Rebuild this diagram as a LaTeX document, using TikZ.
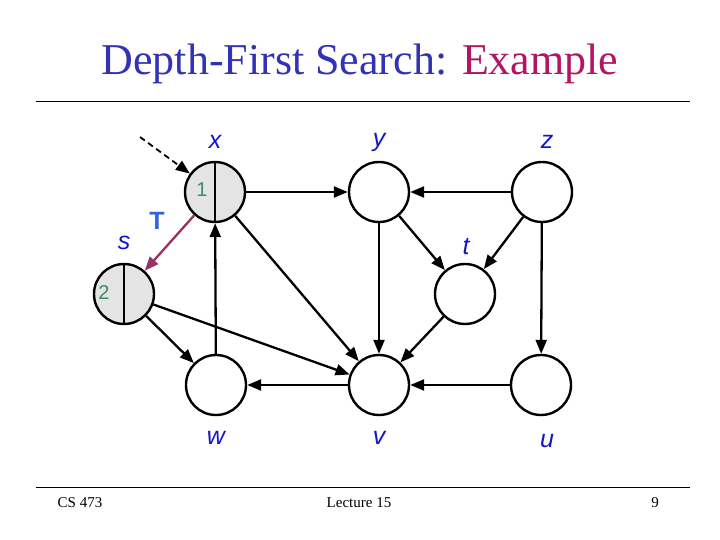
\documentclass[tikz,border=0pt]{standalone}
\usepackage{fontspec}
\setmainfont{Liberation Serif}
\newfontfamily\arialf{Liberation Sans}
\usetikzlibrary{arrows.meta}
\definecolor{titleblue}{RGB}{50,50,180}
\definecolor{titlemag}{RGB}{180,20,100}
\definecolor{lblblue}{RGB}{20,20,200}
\definecolor{tblue}{RGB}{50,100,220}
\definecolor{numgreen}{RGB}{60,140,100}
\definecolor{treepurple}{RGB}{150,50,100}
\definecolor{visitgray}{RGB}{228,228,228}
\tikzset{
  vtx/.style={circle, draw=black, line width=2.4pt, minimum size=60pt, inner sep=0pt, fill=white},
  visited/.style={vtx, fill=visitgray},
  lbl/.style={font=\arialf\itshape\fontsize{25}{25}\selectfont, text=lblblue},
  num/.style={font=\arialf\fontsize{20}{20}\selectfont, text=numgreen},
  edge/.style={line width=2.3pt, -{Triangle[length=14pt,width=11pt]}},
  tree/.style={line width=2.3pt, draw=treepurple, -{Triangle[length=14pt,width=11pt]}, color=treepurple},
  foot/.style={font=\fontsize{15}{15}\selectfont}
}
\begin{document}
\begin{tikzpicture}[x=1pt,y=-1pt]
\useasboundingbox (0,0) rectangle (720,540);
% title
\node (title) at (360,64) {\fontsize{44}{44}\selectfont\textcolor{titleblue}{Depth-First Search:} \textcolor{titlemag}{Example}};
\draw[line width=1pt] (36,102) -- (690,102);
\draw[line width=1pt] (36,487) -- (690,487);
\node[foot] (f1) at (80,503) {CS 473};
\node[foot] (f2) at (359,503) {Lecture 15};
\node[foot] (f3) at (655,503) {9};
% vertices
\node[visited] (x) at (215,192) {};
\node[visited] (s) at (124,294) {};
\draw[line width=2.4pt] (x.north) -- (x.south);
\draw[line width=2.4pt] (s.north) -- (s.south);
\node[vtx] (y) at (379,192) {};
\node[vtx] (z) at (542,192) {};
\node[vtx] (t) at (465,294) {};
\node[vtx] (w) at (216,385) {};
\node[vtx] (v) at (379,385) {};
\node[vtx] (u) at (541,385) {};
% labels
\node[lbl] (lx) at (215,142) {x};
\node[lbl] (ly) at (379,142) {y};
\node[lbl] (lz) at (547,142) {z};
\node[lbl] (ls) at (124,243) {s};
\node[lbl] (lt) at (466,247) {t};
\node[lbl] (lw) at (216,438) {w};
\node[lbl] (lv) at (379,438) {v};
\node[lbl] (lu) at (547,441) {u};
\node[font=\arialf\bfseries\fontsize{25}{25}\selectfont, text=tblue] (T) at (157,221) {T};
\node[num] (n1) at (202,190) {1};
\node[num] (n2) at (104,293) {2};
% start arrow
\coordinate (start) at (140,137);
\draw[edge, line width=1.8pt, dash pattern=on 6pt off 4pt] (start) -- (x);
% edges
\draw[edge] (x) -- (y);
\draw[edge] (z) -- (y);
\draw[edge] (y) -- (t);
\draw[edge] (z) -- (t);
\draw[edge] (y) -- (v);
\draw[edge] (z) -- (u);
\draw[edge] (x) -- (v);
\draw[edge] (w) -- (x);
\draw[edge] (s) -- (w);
\draw[edge] (s) -- (v);
\draw[edge] (t) -- (v);
\draw[edge] (v) -- (w);
\draw[edge] (u) -- (v);
\draw[tree] (x) -- (s);
\end{tikzpicture}
\end{document}
